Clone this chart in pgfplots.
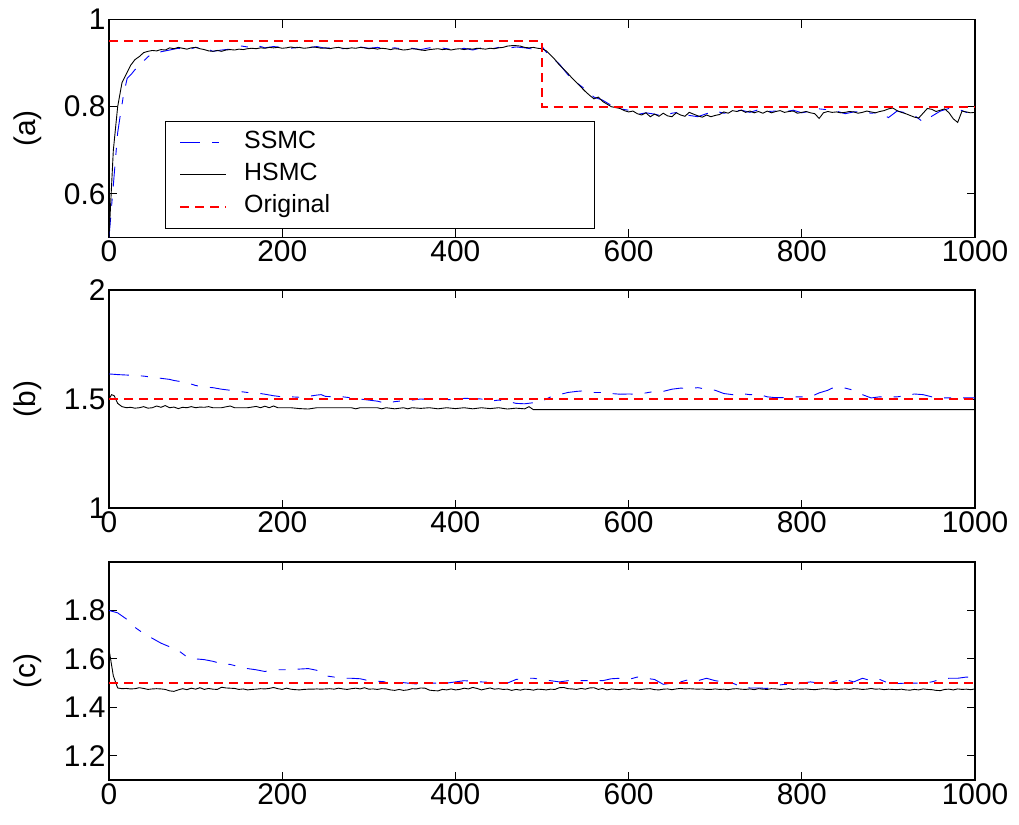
\documentclass[border=0pt]{standalone}
\usepackage{fontspec}
\setmainfont{Liberation Sans}
\usepackage{pgfplots}
\pgfplotsset{compat=1.18}
\usepackage{pgfplotstable}
\definecolor{mred}{rgb}{1,0,0}
\definecolor{mblue}{rgb}{0,0,1}

% HSMC panel (a), x = 0,5,...,1000
\pgfplotstableread[header=false]{
0.50
0.70
0.80
0.855
0.875
0.895
0.908
0.915
0.924
0.927
0.929
0.928
0.931
0.93
0.935
0.933
0.936
0.934
0.932
0.935
0.936
0.933
0.931
0.928
0.927
0.929
0.927
0.93
0.931
0.93
0.932
0.931
0.933
0.934
0.933
0.935
0.934
0.936
0.935
0.936
0.934
0.935
0.937
0.935
0.936
0.934
0.935
0.937
0.936
0.934
0.935
0.933
0.935
0.936
0.934
0.933
0.935
0.934
0.936
0.935
0.933
0.934
0.932
0.934
0.933
0.931
0.933
0.932
0.93
0.931
0.933
0.932
0.93
0.929
0.931
0.932
0.933
0.931
0.932
0.93
0.932
0.933
0.931
0.933
0.932
0.934
0.933
0.932
0.934
0.933
0.935
0.936
0.939
0.94
0.94
0.939
0.936
0.935
0.936
0.934
0.933
0.928
0.918
0.908
0.896
0.886
0.876
0.865
0.855
0.845
0.835
0.826
0.818
0.822
0.812
0.806
0.80
0.798
0.796
0.791
0.788
0.79
0.784
0.781
0.786
0.777
0.783
0.778
0.785
0.779
0.777
0.786
0.781
0.778
0.787
0.783
0.779
0.776
0.781
0.777
0.78
0.782
0.788
0.785
0.791
0.789
0.792
0.787
0.79
0.786
0.789
0.785
0.79
0.786
0.789
0.791
0.787
0.789
0.79
0.785
0.787
0.789
0.786
0.784
0.773
0.786
0.789
0.787
0.788
0.786
0.787
0.789
0.788
0.785
0.787
0.79
0.788
0.786
0.789
0.791
0.795
0.797
0.791
0.787
0.784
0.78
0.776
0.774
0.785
0.796
0.794
0.789
0.792
0.795
0.786
0.772
0.764
0.79
0.788
0.786
0.787
}\hsmcA

% HSMC panel (c), x = 0,5,...,1000
\pgfplotstableread[header=false]{
1.64
1.53
1.48
1.477
1.478
1.476
1.477
1.481
1.478
1.474
1.476
1.477
1.476
1.474
1.468
1.466
1.472
1.477
1.473
1.479
1.475
1.481
1.474
1.478
1.475
1.474
1.483
1.48
1.479
1.478
1.474
1.476
1.472
1.474
1.475
1.477
1.476
1.478
1.482
1.477
1.474
1.479
1.475
1.473
1.472
1.474
1.475
1.475
1.476
1.475
1.476
1.477
1.475
1.479
1.476
1.474
1.477
1.479
1.476
1.481
1.475
1.476
1.474
1.477
1.476
1.472
1.47
1.474
1.47
1.472
1.477
1.476
1.48
1.479
1.471
1.469
1.468
1.474
1.472
1.476
1.472
1.474
1.479
1.476
1.482
1.478
1.472
1.476
1.48
1.475
1.477
1.474
1.475
1.47
1.474
1.471
1.475
1.474
1.471
1.475
1.474
1.472
1.475
1.474
1.481
1.482
1.477
1.476
1.474
1.478
1.475
1.48
1.481
1.474
1.478
1.472
1.476
1.474
1.473
1.476
1.474
1.477
1.475
1.474
1.476
1.477
1.473
1.472
1.475
1.476
1.473
1.476
1.478
1.476
1.477
1.476
1.475
1.476
1.474
1.474
1.476
1.474
1.475
1.473
1.476
1.477
1.475
1.474
1.476
1.473
1.477
1.475
1.474
1.477
1.476
1.474
1.475
1.477
1.474
1.476
1.475
1.476
1.474
1.473
1.475
1.477
1.476
1.475
1.473
1.475
1.476
1.474
1.477
1.476
1.474
1.475
1.478
1.475
1.476
1.473
1.475
1.474
1.473
1.475
1.472
1.471
1.474
1.472
1.476
1.474
1.473
1.47
1.469
1.474
1.475
1.472
1.476
1.474
1.475
1.473
1.476
}\hsmcC

\pgfplotsset{
  myax/.style={
    scale only axis, width=866bp, height=218bp,
    xmin=0, xmax=1000, xtick={0,200,...,1000},
    tick align=inside, major tick length=8bp,
    axis line style={line width=1.2bp},
    every tick/.style={black, line width=1bp},
    tick label style={font=\fontsize{30}{36}\selectfont},
    /pgf/number format/assume math mode=true,
    /pgf/number format/1000 sep={},
    every axis y label/.style={at={(axis description cs:0,0.5)}, xshift=-81bp,
      rotate=90, anchor=center, font=\fontsize{30}{36}\selectfont},
  },
  ssmcline/.style={draw=mblue, color=mblue, line width=0.9bp, dash pattern=on 20bp off 12bp on 7bp off 12bp},
  hsmcline/.style={draw=black, color=black, line width=0.9bp},
  origline/.style={draw=mred, color=mred, line width=1.7bp, dash pattern=on 9bp off 6bp},
}

\begin{document}
\begin{tikzpicture}
\useasboundingbox (0,0) rectangle (1019bp,-825bp);

% ---------------- (a)
\begin{axis}[myax, at={(109bp,-19.5bp)}, anchor=north west,
  ymin=0.5, ymax=1, ytick={0.6,0.8,1}, ylabel={(a)},
  legend style={at={(rel axis cs:0.0647,0.04)}, anchor=south west,
    draw=black, line width=1bp, fill=white,
    font=\fontsize{25}{30}\selectfont, inner xsep=14bp, inner ysep=5.5bp,
    row sep=0bp,
    nodes={text height=18bp, text depth=6bp, inner ysep=4bp, inner xsep=0bp},
    /tikz/every odd column/.append style={column sep=17bp}},
  legend cell align=left,
  legend image code/.code={\draw[#1] (0bp,0bp) -- (46bp,0bp);},
]
\addplot[ssmcline] coordinates {(0,0.50)(5,0.62)(10,0.74)(13,0.78)(17,0.83)(21,0.865)(26,0.875)(30,0.885)(36,0.896)(40,0.905)(47,0.918)(50,0.922)(60,0.926)(70,0.93)(80,0.934)(90,0.93)(100,0.936)(110,0.935)(120,0.927)(130,0.93)(140,0.932)(150,0.94)(160,0.937)(170,0.941)(180,0.935)(190,0.938)(200,0.936)(210,0.934)(220,0.937)(230,0.935)(240,0.938)(250,0.934)(260,0.936)(270,0.933)(280,0.935)(290,0.937)(300,0.934)(310,0.936)(320,0.933)(330,0.935)(340,0.932)(350,0.934)(360,0.931)(370,0.935)(380,0.936)(390,0.933)(400,0.93)(410,0.934)(420,0.93)(430,0.935)(440,0.932)(450,0.936)(460,0.934)(470,0.937)(480,0.935)(490,0.932)(500,0.938)(505,0.925)(510,0.915)(520,0.898)(530,0.873)(540,0.855)(550,0.84)(560,0.822)(570,0.815)(580,0.803)(590,0.795)(600,0.792)(610,0.782)(620,0.786)(630,0.783)(640,0.778)(650,0.785)(660,0.788)(670,0.78)(680,0.777)(690,0.784)(700,0.79)(710,0.785)(720,0.789)(730,0.792)(740,0.787)(750,0.793)(760,0.789)(770,0.79)(780,0.788)(790,0.792)(800,0.786)(810,0.79)(820,0.795)(830,0.793)(840,0.79)(850,0.784)(860,0.788)(870,0.789)(880,0.785)(890,0.787)(900,0.775)(910,0.79)(920,0.786)(930,0.78)(940,0.765)(950,0.778)(960,0.79)(970,0.796)(980,0.795)(990,0.787)(1000,0.785)};
\addlegendentry{\makebox[336bp][l]{SSMC}}
\addplot[hsmcline] table[x expr=\coordindex*5, y index=0] {\hsmcA};
\addlegendentry{\makebox[336bp][l]{HSMC}}
\addplot[origline] coordinates {(0,0.95)(500,0.95)(500,0.8)(1000,0.8)};
\addlegendentry{\makebox[336bp][l]{Original}}
\end{axis}

% ---------------- (b)
\begin{axis}[myax, at={(109bp,-290bp)}, anchor=north west,
  ymin=1, ymax=2, ytick={1,1.5,2}, ylabel={(b)}]
\addplot[ssmcline] coordinates {(0,1.615)(10,1.612)(20,1.61)(30,1.608)(40,1.605)(50,1.60)(60,1.595)(70,1.59)(75,1.585)(90,1.575)(100,1.562)(110,1.555)(120,1.552)(130,1.545)(140,1.54)(150,1.535)(160,1.53)(170,1.528)(180,1.522)(190,1.515)(200,1.51)(210,1.51)(220,1.508)(230,1.512)(240,1.518)(245,1.52)(250,1.512)(260,1.51)(270,1.51)(280,1.505)(290,1.50)(300,1.495)(310,1.49)(320,1.48)(330,1.488)(340,1.492)(350,1.495)(360,1.50)(370,1.498)(380,1.50)(390,1.498)(400,1.495)(410,1.503)(420,1.502)(430,1.50)(440,1.49)(450,1.495)(460,1.49)(470,1.48)(480,1.478)(490,1.483)(500,1.49)(510,1.51)(520,1.52)(530,1.53)(540,1.535)(550,1.538)(560,1.53)(570,1.53)(580,1.525)(590,1.522)(600,1.523)(610,1.522)(620,1.528)(630,1.535)(640,1.535)(650,1.545)(660,1.55)(670,1.548)(680,1.552)(690,1.545)(700,1.54)(710,1.525)(720,1.52)(730,1.525)(740,1.52)(750,1.522)(760,1.51)(770,1.506)(780,1.506)(790,1.51)(800,1.51)(810,1.51)(820,1.528)(830,1.54)(835,1.55)(840,1.545)(850,1.55)(860,1.54)(870,1.52)(880,1.505)(890,1.51)(900,1.51)(910,1.51)(920,1.515)(930,1.523)(940,1.52)(950,1.51)(960,1.505)(970,1.505)(980,1.505)(990,1.505)(1000,1.505)};
\addplot[hsmcline] coordinates {(0,1.50)(3,1.52)(6,1.515)(10,1.48)(15,1.465)(20,1.46)(25,1.462)(30,1.458)(35,1.46)(40,1.465)(45,1.458)(50,1.46)(55,1.468)(60,1.462)(65,1.47)(70,1.46)(75,1.463)(80,1.456)(85,1.462)(90,1.46)(95,1.465)(100,1.46)(105,1.463)(110,1.462)(115,1.465)(120,1.46)(130,1.46)(140,1.468)(145,1.46)(160,1.46)(170,1.466)(175,1.46)(180,1.467)(185,1.46)(190,1.468)(195,1.46)(210,1.46)(220,1.456)(230,1.454)(240,1.46)(260,1.46)(280,1.46)(285,1.455)(290,1.46)(310,1.46)(315,1.455)(320,1.46)(330,1.455)(340,1.46)(345,1.455)(350,1.46)(360,1.457)(370,1.46)(380,1.455)(390,1.46)(400,1.456)(410,1.46)(420,1.455)(430,1.46)(440,1.456)(450,1.46)(460,1.454)(470,1.458)(480,1.455)(485,1.465)(490,1.451)(1000,1.451)};
\addplot[origline] coordinates {(0,1.5)(1000,1.5)};
\end{axis}

% ---------------- (c)
\begin{axis}[myax, at={(109bp,-562bp)}, anchor=north west,
  ymin=1.1, ymax=2, ytick={1.2,1.4,1.6,1.8}, ylabel={(c)}]
\addplot[ssmcline] coordinates {(0,1.80)(10,1.79)(20,1.765)(30,1.73)(40,1.705)(50,1.685)(60,1.665)(70,1.65)(80,1.635)(90,1.608)(100,1.60)(110,1.597)(120,1.59)(130,1.58)(140,1.577)(150,1.568)(160,1.56)(170,1.555)(180,1.548)(190,1.555)(200,1.555)(210,1.556)(220,1.558)(230,1.56)(240,1.553)(250,1.53)(260,1.525)(270,1.52)(280,1.52)(290,1.518)(300,1.51)(310,1.508)(320,1.505)(330,1.503)(340,1.502)(350,1.498)(360,1.495)(370,1.50)(380,1.50)(390,1.50)(400,1.505)(410,1.51)(420,1.508)(430,1.505)(440,1.503)(450,1.503)(460,1.50)(470,1.515)(480,1.52)(490,1.52)(500,1.515)(510,1.51)(520,1.505)(530,1.51)(540,1.51)(550,1.51)(560,1.512)(570,1.51)(580,1.518)(590,1.52)(600,1.515)(610,1.525)(620,1.52)(630,1.515)(640,1.495)(650,1.50)(660,1.505)(670,1.515)(680,1.51)(690,1.52)(700,1.51)(710,1.505)(720,1.50)(730,1.485)(740,1.48)(750,1.48)(760,1.478)(770,1.49)(780,1.495)(790,1.492)(800,1.50)(810,1.505)(820,1.50)(830,1.50)(840,1.51)(850,1.515)(860,1.505)(870,1.52)(880,1.51)(890,1.515)(900,1.50)(910,1.498)(920,1.50)(930,1.50)(940,1.50)(950,1.505)(960,1.515)(970,1.52)(980,1.52)(990,1.525)(1000,1.525)};
\addplot[hsmcline] table[x expr=\coordindex*5, y index=0] {\hsmcC};
\addplot[origline] coordinates {(0,1.5)(1000,1.5)};
\end{axis}
\end{tikzpicture}
\end{document}
